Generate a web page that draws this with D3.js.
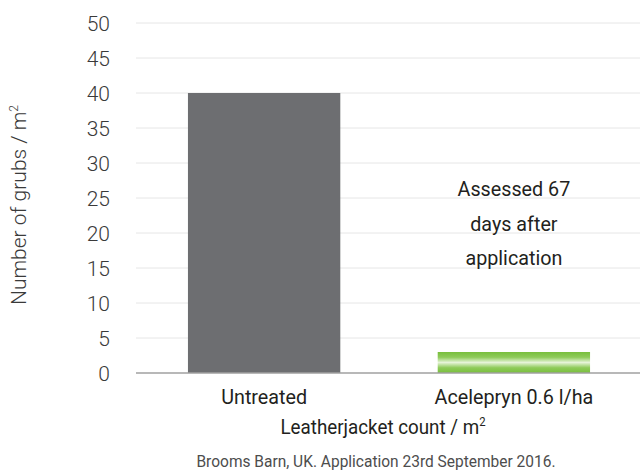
<!DOCTYPE html>
<html>
<head>
<meta charset="utf-8">
<script src="https://cdn.jsdelivr.net/npm/d3@7"></script>
<style>
  body { margin: 0; background: #fff; }
  .light { font-family: "Roboto", "Liberation Sans", sans-serif; font-weight: 300; fill: #3a3a3a; }
  .narrow { font-family: "Roboto", "Liberation Sans", sans-serif; font-weight: 400; fill: #231f20; }
</style>
</head>
<body>
<div id="chart"></div>
<script>
'use strict';

const categories = ["Untreated", "Acelepryn 0.6 l/ha"];
const grubCounts = [40, 3];
const yTicks = [0, 5, 10, 15, 20, 25, 30, 35, 40, 45, 50];
const noteLines = ["Assessed 67", "days after", "application"];

const width = 640;
const height = 473;
const margin = { top: 23, bottom: 100, left: 136, right: 0 };
const squeeze = 0.94;

const svg = d3.select("#chart")
    .append("svg")
    .attr("width", width)
    .attr("height", height);

const defs = svg.append("defs");
const grad = defs.append("linearGradient")
    .attr("id", "greenGrad")
    .attr("x1", 0).attr("y1", 0).attr("x2", 0).attr("y2", 1);
grad.append("stop").attr("offset", "0%").attr("stop-color", "#78be3c");
grad.append("stop").attr("offset", "25%").attr("stop-color", "#8fcb5a");
grad.append("stop").attr("offset", "50%").attr("stop-color", "#e6f4d8");
grad.append("stop").attr("offset", "75%").attr("stop-color", "#8fcb5a");
grad.append("stop").attr("offset", "100%").attr("stop-color", "#78be3c");

const xScale = d3.scaleBand()
    .domain(categories)
    .range([margin.left + 2, width])
    .paddingInner(0.39)
    .paddingOuter(0.2);

const yScale = d3.scaleLinear()
    .domain([0, 50])
    .range([height - margin.bottom, margin.top]);

// gridlines
svg.append("g")
    .selectAll("line")
    .data(yTicks.filter(d => d > 0))
    .join("line")
    .attr("x1", margin.left)
    .attr("x2", width)
    .attr("y1", d => yScale(d))
    .attr("y2", d => yScale(d))
    .attr("stroke", "#e6e6e6")
    .attr("stroke-width", 1);

// bars
svg.append("g")
    .selectAll("rect")
    .data(categories)
    .join("rect")
    .attr("x", d => xScale(d))
    .attr("width", xScale.bandwidth())
    .attr("y", (d, i) => yScale(grubCounts[i]))
    .attr("height", (d, i) => yScale(0) - yScale(grubCounts[i]))
    .attr("fill", (d, i) => i === 0 ? "#6d6e71" : "url(#greenGrad)");

// baseline
svg.append("line")
    .attr("x1", margin.left)
    .attr("x2", width)
    .attr("y1", yScale(0))
    .attr("y2", yScale(0))
    .attr("stroke", "#a0a0a0")
    .attr("stroke-width", 1.5);

// y tick labels
svg.append("g")
    .selectAll("text")
    .data(yTicks)
    .join("text")
    .attr("class", "light")
    .attr("x", 110)
    .attr("y", d => yScale(d))
    .attr("dy", "0.36em")
    .attr("text-anchor", "end")
    .attr("font-size", 21)
    .text(d => d);

// y axis title
const yTitle = svg.append("text")
    .attr("class", "light")
    .attr("transform", "translate(26, 205) rotate(-90)")
    .attr("text-anchor", "middle")
    .attr("font-size", 21);
yTitle.append("tspan").text("Number of grubs / m");
yTitle.append("tspan").attr("font-size", 12).attr("dy", -8).text("2");

// narrow text helper
function narrowText(x, y, size) {
    return svg.append("text")
        .attr("class", "narrow")
        .attr("transform", `translate(${x},${y}) scale(${squeeze},1)`)
        .attr("text-anchor", "middle")
        .attr("font-size", size);
}

// category labels
categories.forEach(c => {
    narrowText(xScale(c) + xScale.bandwidth() / 2, 404, 21).text(c);
});

// x axis title
const xTitle = narrowText(383, 434, 20);
xTitle.append("tspan").text("Leatherjacket count / m");
xTitle.append("tspan").attr("font-size", 12).attr("dy", -8).text("2");

// footnote
narrowText(376, 467, 16.5)
    .style("fill", "#4d4d4d")
    .text("Brooms Barn, UK. Application 23rd September 2016.");

// annotation
noteLines.forEach((t, i) => {
    narrowText(xScale(categories[1]) + xScale.bandwidth() / 2, 196 + i * 34.5, 21).text(t);
});
</script>
</body>
</html>
